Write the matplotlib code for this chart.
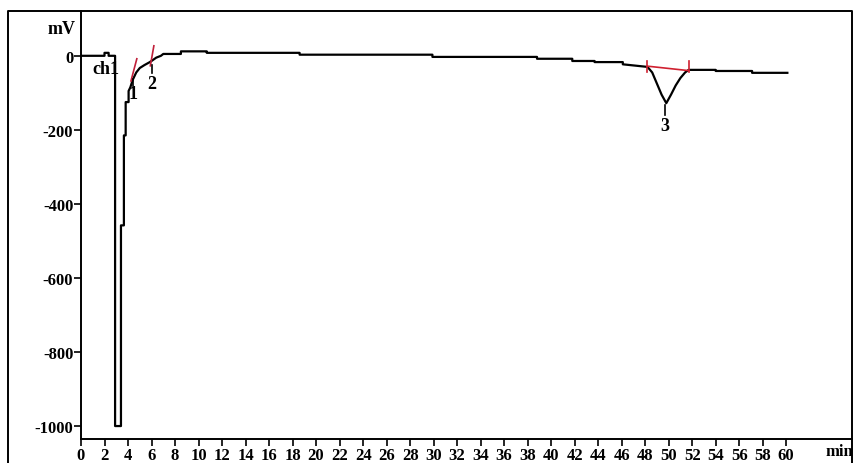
import numpy as np
import matplotlib.pyplot as plt
from matplotlib.lines import Line2D

plt.rcParams['font.family'] = ['Liberation Serif', 'DejaVu Serif']
plt.rcParams['font.weight'] = 'bold'
plt.rcParams['axes.unicode_minus'] = False

# chromatogram trace, ch1 (time in min, signal in mV)
t = [0, 2.0, 2.0, 2.35, 2.35, 2.9, 2.9, 3.4, 3.4, 3.65, 3.65, 3.8, 3.8,
     4.05, 4.05, 4.2, 4.4, 4.7, 5.0, 5.4, 5.8, 6.0, 6.4, 6.8, 7.0, 8.5, 8.5,
     10.7, 10.7, 18.6, 18.6, 29.9, 29.9, 38.8, 38.8, 41.8, 41.8, 43.7, 43.7,
     46.1, 46.1, 48.2, 48.6, 49.0, 49.4, 49.8, 50.2, 50.6, 51.0, 51.4, 51.7,
     54.0, 54.0, 57.1, 57.1, 60.1]
mv = [0, 0, 8, 8, 0, 0, -1000, -1000, -458, -458, -215, -215, -125,
      -125, -95, -85, -65, -45, -33, -25, -18, -14, -5, 0, 5, 5, 12,
      12, 8, 8, 3, 3, -3, -3, -8, -8, -14, -14, -17,
      -17, -23, -30, -45, -75, -105, -128, -105, -80, -60, -45, -38,
      -38, -41, -41, -46, -46]

# peak numbers and their marker positions
peak_no = ['1', '2', '3']
peak_t = [4.43, 6.04, 49.7]
peak_lbl_mv = [-103, -76, -189]
peak_tick_mv = [(-62, -81), (-24, -46), (-132, -160)]

fig = plt.figure(figsize=(8.54, 4.64), dpi=100)
ax = fig.add_axes([81 / 854, 24 / 464, (852 - 81) / 854, (440 - 12) / 464])

ax.plot(t, mv, color='black', lw=1.6)

# peak start/end cuts and baseline (red)
ax.plot([4.25, 4.75], [-68, -8], color='#c0203a', lw=1.2)
ax.plot([5.9, 6.2], [-27, 27], color='#c0203a', lw=1.2)
ax.plot([48.2, 51.7], [-28, -40], color='#d02030', lw=1.2)
ax.plot([48.2, 48.2], [-15, -45], color='#d02030', lw=1.2)
ax.plot([51.7, 51.7], [-14, -43], color='#d02030', lw=1.2)

for n, x, ylab, (y0, y1) in zip(peak_no, peak_t, peak_lbl_mv, peak_tick_mv):
    ax.plot([x, x], [y0, y1], color='black', lw=1.2)
    ax.text(x, ylab, n, ha='center', va='center', fontsize=13)

ax.text(1.0, -35, 'ch1', ha='left', va='center', fontsize=13)

ax.set_xlim(0, 65.6)
ax.set_ylim(-1035, 121)
ax.set_xticks(np.arange(0, 61, 2))
ax.set_yticks(np.arange(-1000, 1, 200))
ax.tick_params(direction='out', length=5, width=1.2, labelsize=12, pad=0.5)
for lab in ax.get_xticklabels() + ax.get_yticklabels():
    lab.set_fontweight('bold')
ax.spines['top'].set_visible(False)
ax.spines['right'].set_visible(False)
ax.spines['left'].set_linewidth(1.4)
ax.spines['bottom'].set_linewidth(1.4)

fig.text(62 / 854, 1 - 30 / 464, 'mV', ha='center', va='center', fontsize=13)
fig.text(826 / 854, 1 - 452 / 464, 'min', ha='left', va='center', fontsize=12)

# outer frame
fx = [8 / 854, 8 / 854, 852 / 854, 852 / 854]
fy = [0, 1 - 12 / 464, 1 - 12 / 464, 0]
fig.add_artist(Line2D(fx, fy, color='black', lw=1.4, transform=fig.transFigure))

fig.savefig('out.png', dpi=100)
